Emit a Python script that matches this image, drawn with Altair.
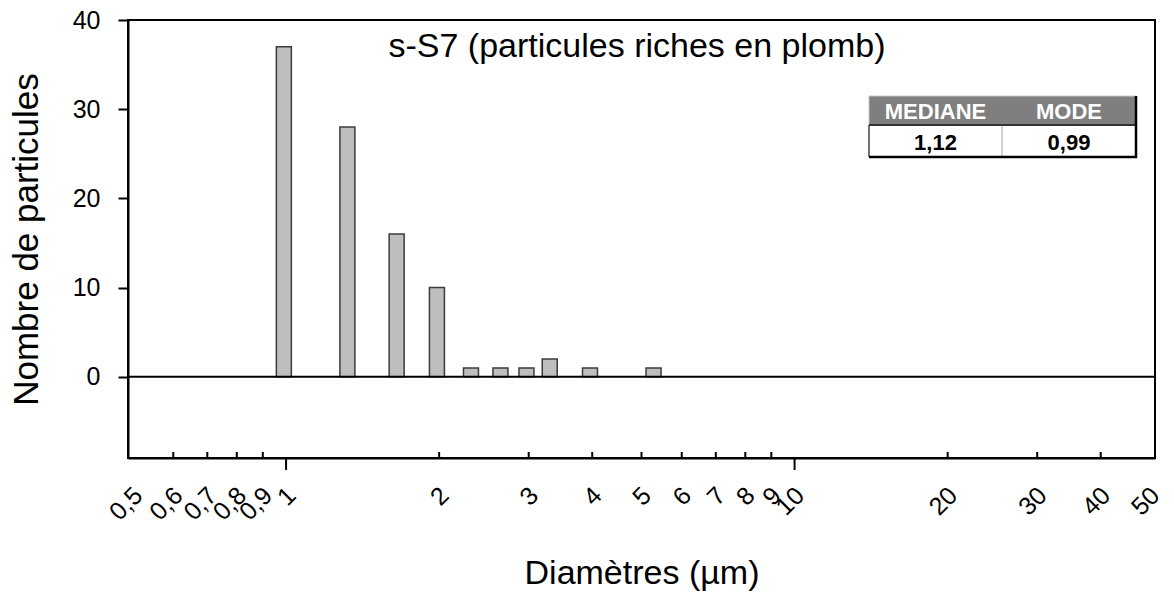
import altair as alt
import pandas as pd

# Particle counts per diameter class (µm)
diameters = [0.99, 1.32, 1.65, 1.98, 2.31, 2.64, 2.97, 3.30, 3.96, 5.28]
counts = [37, 28, 16, 10, 1, 1, 1, 2, 1, 1]

# Axis graduations
tick_labels = [0.5, 0.6, 0.7, 0.8, 0.9, 1, 2, 3, 4, 5, 6, 7, 8, 9, 10, 20, 30, 40, 50]
major_ticks = [1, 10]
minor_ticks = [0.6, 0.7, 0.8, 0.9, 2, 3, 4, 5, 6, 7, 8, 9, 20, 30, 40]
y_ticks = [0, 10, 20, 30, 40]

title_text = "s-S7 (particules riches en plomb)"
stat_headers = ["MEDIANE", "MODE"]
stat_values = ["1,12", "0,99"]

W, H = 1027, 438
FONT = "Liberation Sans"

x_scale = alt.Scale(type="log", domain=[0.5, 50], nice=False)
y_scale = alt.Scale(domain=[-9.1, 40], nice=False, zero=False)

x_axis = alt.Axis(
    values=tick_labels,
    labelExpr="replace(toString(datum.value), '.', ',')",
    ticks=False, grid=False,
    labelAngle=-45, labelAlign="right", labelBaseline="middle",
    labelPadding=33, labelOffset=5, labelFontSize=25, labelFont=FONT,
    labelColor="black", labelOverlap=False, labelFlush=False,
    domainColor="black", domainWidth=2,
    title="Diamètres (µm)", titleFont=FONT, titleFontSize=34,
    titleFontWeight="normal", titleColor="black",
    titleX=W / 2, titleY=125, titleBaseline="alphabetic", titleAlign="center",
)
y_axis = alt.Axis(
    values=y_ticks, grid=False,
    tickSize=10, tickWidth=2, tickColor="black",
    labelFontSize=25, labelFont=FONT, labelColor="black", labelPadding=18,
    domainColor="black", domainWidth=2,
    title="Nombre de particules", titleFont=FONT, titleFontSize=35,
    titleFontWeight="normal", titleColor="black",
    titleAngle=-90, titleX=-91, titleY=H / 2,
    titleBaseline="alphabetic", titleAlign="center",
)

bars = alt.Chart(pd.DataFrame({"d": diameters, "n": counts})).mark_bar(
    size=15, fill="#bebebe", stroke="#3c3c3c", strokeWidth=1.5
).encode(
    x=alt.X("d:Q", scale=x_scale, axis=x_axis),
    y=alt.Y("n:Q", scale=y_scale, axis=y_axis),
)

zero_line = alt.Chart(pd.DataFrame({"n": [0]})).mark_rule(
    color="black", strokeWidth=2
).encode(y=alt.Y("n:Q", scale=y_scale, axis=y_axis))

major = alt.Chart(pd.DataFrame({"d": major_ticks})).mark_rule(
    color="black", strokeWidth=2
).encode(
    x=alt.X("d:Q", scale=x_scale, axis=x_axis),
    y=alt.value(H), y2=alt.value(H + 12),
)
minor = alt.Chart(pd.DataFrame({"d": minor_ticks})).mark_rule(
    color="black", strokeWidth=2
).encode(
    x=alt.X("d:Q", scale=x_scale, axis=x_axis),
    y=alt.value(H - 6), y2=alt.value(H),
)

title = alt.Chart(pd.DataFrame({"t": [title_text]})).mark_text(
    font=FONT, fontSize=34, align="center", baseline="alphabetic", color="black"
).encode(x=alt.value(509), y=alt.value(37), text="t:N")

# Statistics box (median / mode)
TL, TR, TT, TM, TB, TD = 741, 1008, 76, 105, 137, 874
box_df = pd.DataFrame({"k": [0]})


def rect(x1, x2, y1, y2, **kw):
    return alt.Chart(box_df).mark_rect(**kw).encode(
        x=alt.value(x1), x2=alt.value(x2), y=alt.value(y1), y2=alt.value(y2)
    )


def line(x1, x2, y1, y2, color, width):
    return alt.Chart(box_df).mark_rule(color=color, strokeWidth=width).encode(
        x=alt.value(x1), x2=alt.value(x2), y=alt.value(y1), y2=alt.value(y2)
    )


box_layers = [
    rect(TL, TR, TT, TM, fill="#7f7f7f"),
    rect(TL, TR, TM, TB, fill="white"),
    line(TL, TR, TT, TT, "#c8c8c8", 1),
    line(TL, TL, TT, TM, "#c8c8c8", 1),
    line(TL, TL, TM, TB, "#444444", 1.5),
    line(TD, TD, TM, TB, "#a8a8a8", 1),
    line(TL, TR, TM, TM, "#333333", 2),
    line(TR, TR, TT, TB + 1, "black", 2.5),
    line(TL, TR + 1, TB, TB, "black", 2.5),
]
centers = [(TL + TD) / 2, (TD + TR) / 2]
for cx, head, val in zip(centers, stat_headers, stat_values):
    box_layers.append(
        alt.Chart(pd.DataFrame({"s": [head]})).mark_text(
            font=FONT, fontSize=22, fontWeight="bold", color="white",
            align="center", baseline="alphabetic",
        ).encode(x=alt.value(cx), y=alt.value(99), text="s:N")
    )
    box_layers.append(
        alt.Chart(pd.DataFrame({"s": [val]})).mark_text(
            font=FONT, fontSize=22, fontWeight="bold", color="black",
            align="center", baseline="alphabetic",
        ).encode(x=alt.value(cx), y=alt.value(130), text="s:N")
    )

chart = alt.layer(bars, zero_line, major, minor, title, *box_layers).properties(
    width=W, height=H,
    background="white",
    autosize=alt.AutoSizeParams(type="none"),
    padding={"left": 128, "top": 20, "right": 19, "bottom": 135},
).configure_view(stroke="black", strokeWidth=2)

chart.save("out.html", embed_options={"renderer": "svg", "actions": False})
